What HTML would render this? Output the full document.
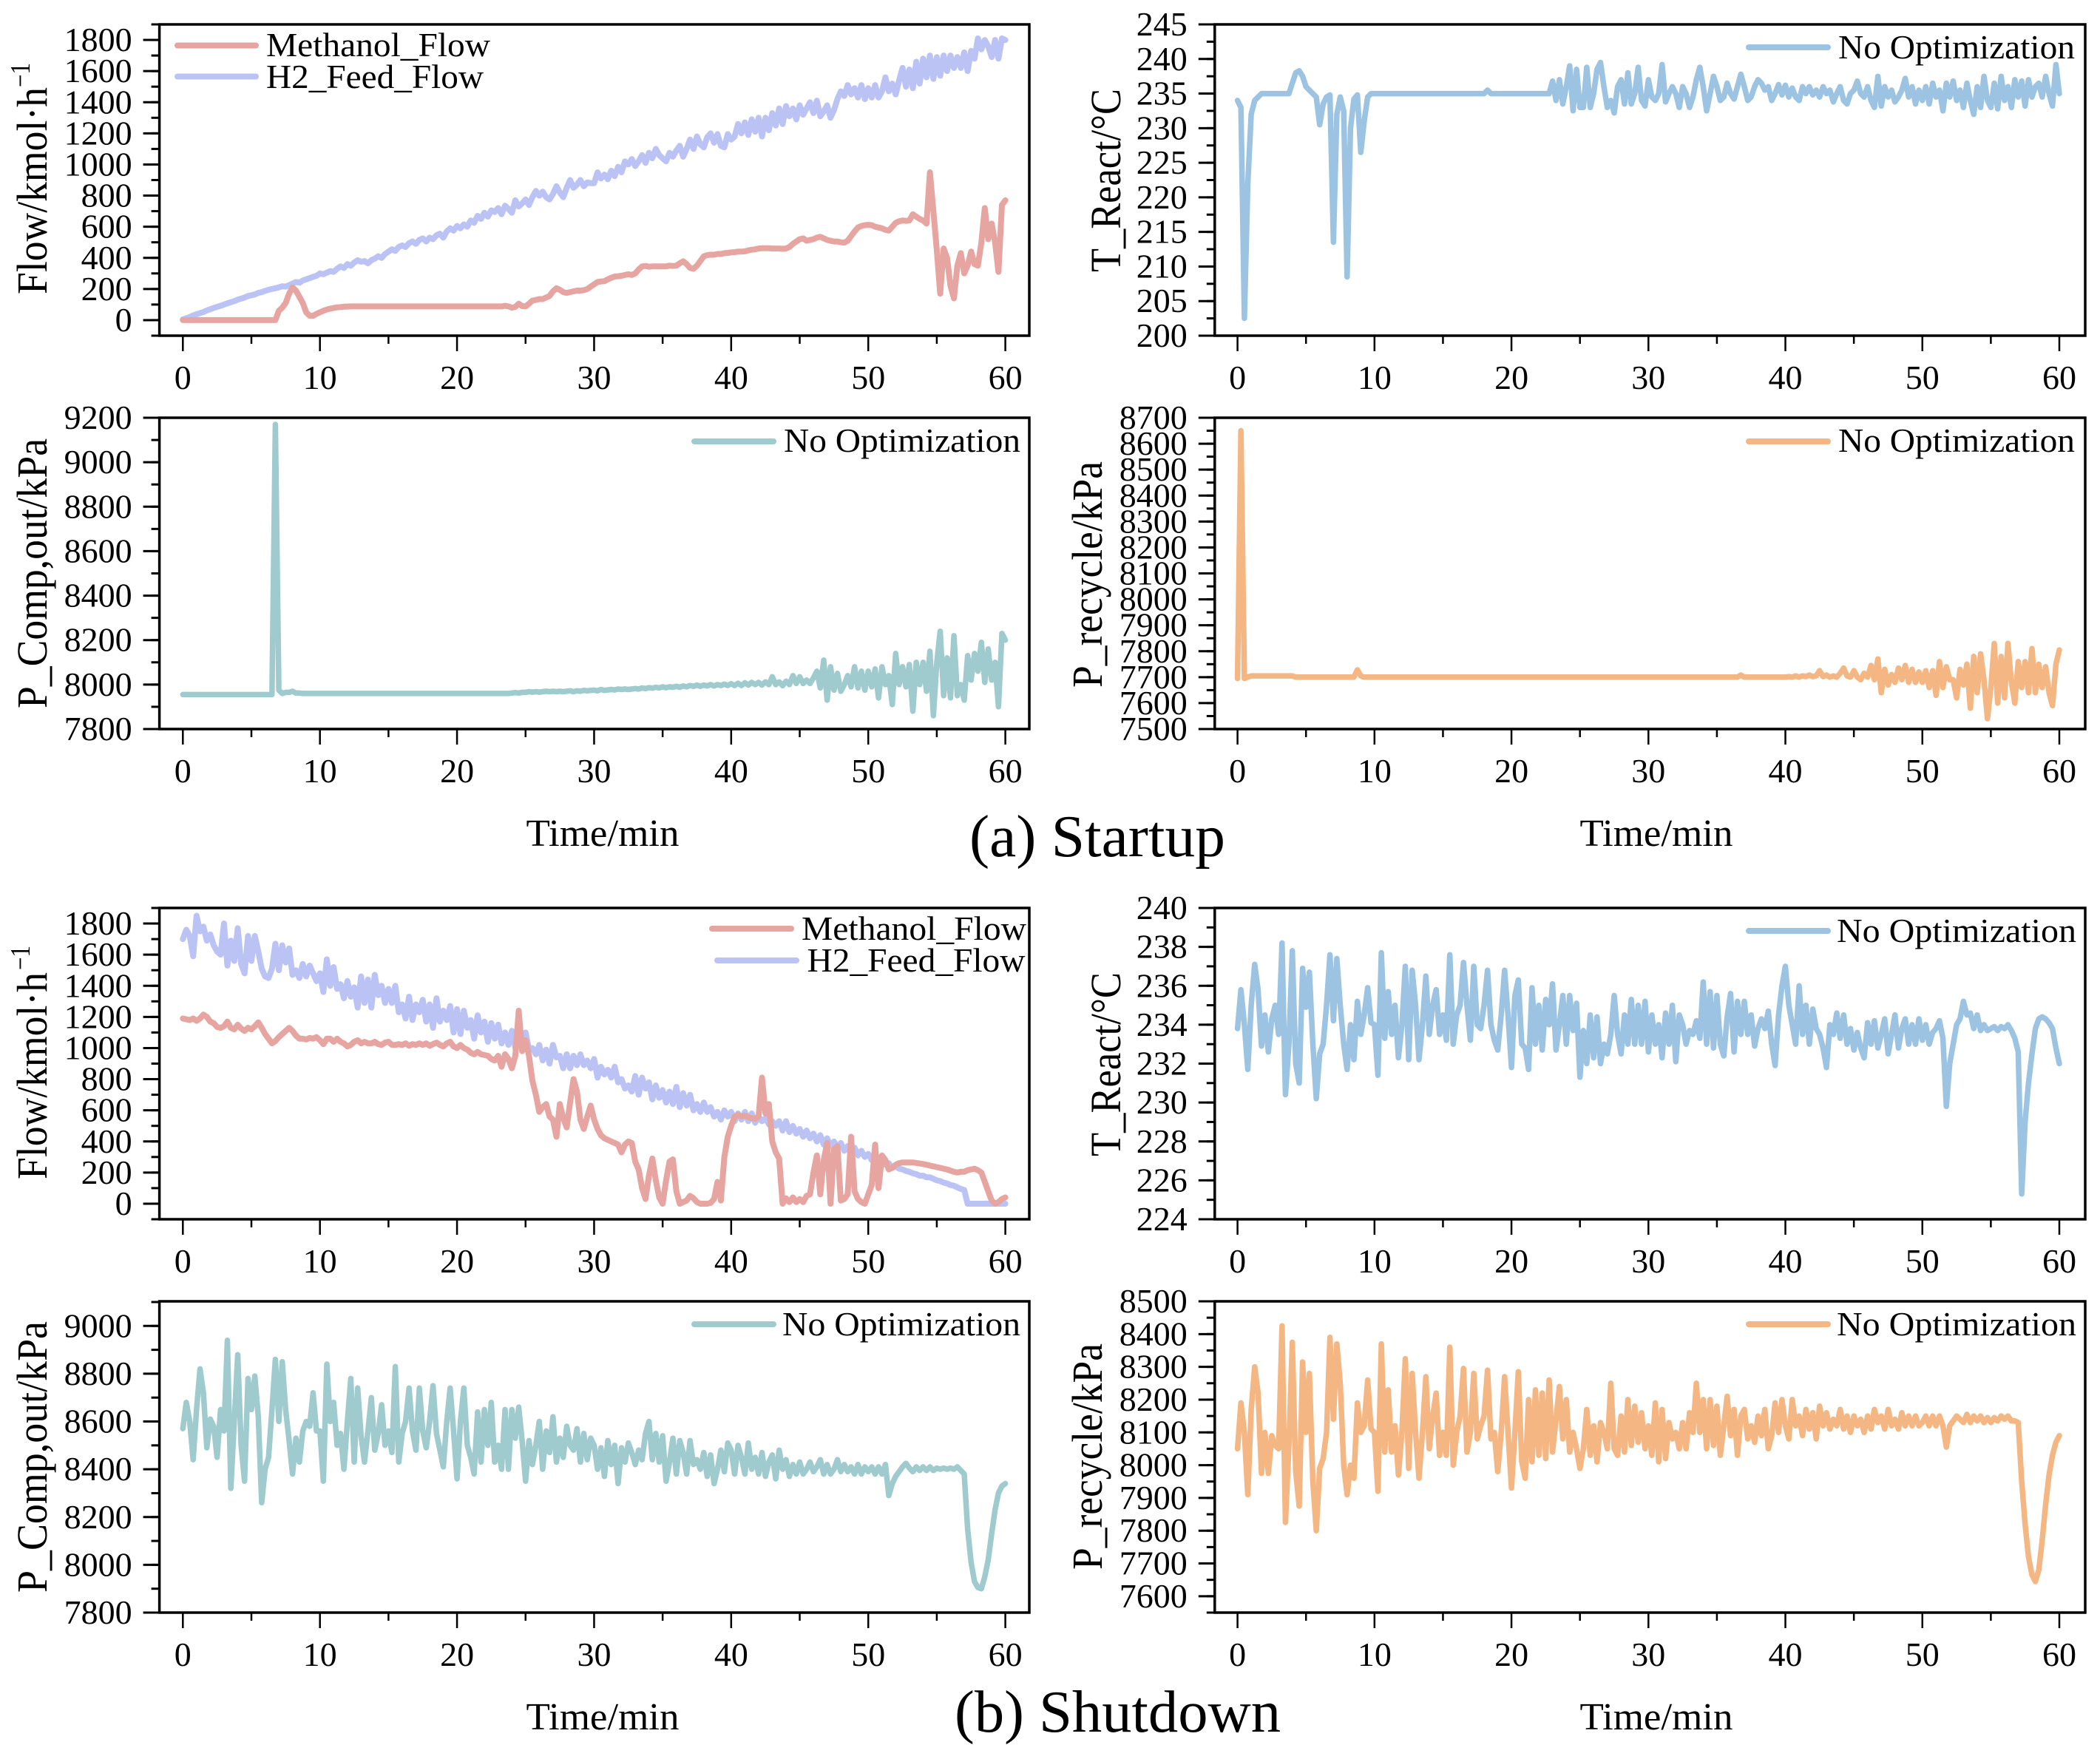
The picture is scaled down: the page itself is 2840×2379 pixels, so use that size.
<!DOCTYPE html>
<html lang="en">
<head>
<meta charset="utf-8">
<title>Startup and shutdown dynamics</title>
<style>
html,body{margin:0;padding:0;background:#fff;}
svg{display:block;}
text{font-family:"Liberation Serif",serif;fill:#000;}
</style>
</head>
<body>
<svg id="chart" xmlns="http://www.w3.org/2000/svg" width="2840" height="2379" viewBox="0 0 2840 2379">
<rect x="0" y="0" width="2840" height="2379" fill="#fff"/>
<g id="marks"></g>

<g>
<text transform="translate(63,398) rotate(-90)" font-size="58" textLength="280" lengthAdjust="spacingAndGlyphs">Flow/kmol·h</text>
<text transform="translate(40,118) rotate(-90)" font-size="38" textLength="33" lengthAdjust="spacingAndGlyphs">−1</text>
<line x1="240" x2="346" y1="61.5" y2="61.5" stroke="#E6A5A0" stroke-width="8" stroke-linecap="round"/>
<text x="360" y="76" font-size="46" textLength="303" lengthAdjust="spacingAndGlyphs">Methanol_Flow</text>
<line x1="240" x2="346" y1="103.5" y2="103.5" stroke="#BBC3F5" stroke-width="8" stroke-linecap="round"/>
<text x="360" y="119" font-size="46" textLength="294" lengthAdjust="spacingAndGlyphs">H2_Feed_Flow</text>
</g>

<g>
<text transform="translate(1515,368) rotate(-90)" font-size="58" textLength="248" lengthAdjust="spacingAndGlyphs">T_React/°C</text>
<line x1="2365" x2="2472" y1="64" y2="64" stroke="#9CC4E2" stroke-width="8" stroke-linecap="round"/>
<text x="2486" y="79" font-size="46" textLength="320" lengthAdjust="spacingAndGlyphs">No Optimization</text>
</g>

<g>
<text transform="translate(63,958) rotate(-90)" font-size="58" textLength="365" lengthAdjust="spacingAndGlyphs">P_Comp,out/kPa</text>
<line x1="939" x2="1046" y1="597" y2="597" stroke="#9FCBCF" stroke-width="8" stroke-linecap="round"/>
<text x="1060" y="611" font-size="46" textLength="320" lengthAdjust="spacingAndGlyphs">No Optimization</text>
<text x="815" y="1144" font-size="52" text-anchor="middle" textLength="207" lengthAdjust="spacingAndGlyphs">Time/min</text>
</g>

<g>
<text transform="translate(1490,930) rotate(-90)" font-size="58" textLength="306" lengthAdjust="spacingAndGlyphs">P_recycle/kPa</text>
<line x1="2365" x2="2472" y1="597" y2="597" stroke="#F4B783" stroke-width="8" stroke-linecap="round"/>
<text x="2486" y="611" font-size="46" textLength="320" lengthAdjust="spacingAndGlyphs">No Optimization</text>
<text x="2240" y="1144" font-size="52" text-anchor="middle" textLength="207" lengthAdjust="spacingAndGlyphs">Time/min</text>
</g>

<text x="1311" y="1158" font-size="80" textLength="346" lengthAdjust="spacingAndGlyphs">(a) Startup</text>

<g>
<text transform="translate(63,1595) rotate(-90)" font-size="58" textLength="280" lengthAdjust="spacingAndGlyphs">Flow/kmol·h</text>
<text transform="translate(40,1312) rotate(-90)" font-size="38" textLength="33" lengthAdjust="spacingAndGlyphs">−1</text>
<line x1="963" x2="1070" y1="1256" y2="1256" stroke="#E6A5A0" stroke-width="8" stroke-linecap="round"/>
<text x="1084" y="1271" font-size="46" textLength="304" lengthAdjust="spacingAndGlyphs">Methanol_Flow</text>
<line x1="970" x2="1077" y1="1299" y2="1299" stroke="#BBC3F5" stroke-width="8" stroke-linecap="round"/>
<text x="1091.5" y="1314" font-size="46" textLength="295" lengthAdjust="spacingAndGlyphs">H2_Feed_Flow</text>
</g>

<g>
<text transform="translate(1515,1564) rotate(-90)" font-size="58" textLength="249" lengthAdjust="spacingAndGlyphs">T_React/°C</text>
<line x1="2365" x2="2472" y1="1259" y2="1259" stroke="#9CC4E2" stroke-width="8" stroke-linecap="round"/>
<text x="2484" y="1274" font-size="46" textLength="324" lengthAdjust="spacingAndGlyphs">No Optimization</text>
</g>

<g>
<text transform="translate(63,2154) rotate(-90)" font-size="58" textLength="367" lengthAdjust="spacingAndGlyphs">P_Comp,out/kPa</text>
<line x1="939" x2="1046" y1="1791" y2="1791" stroke="#9FCBCF" stroke-width="8" stroke-linecap="round"/>
<text x="1058" y="1806" font-size="46" textLength="322" lengthAdjust="spacingAndGlyphs">No Optimization</text>
<text x="815" y="2339" font-size="52" text-anchor="middle" textLength="207" lengthAdjust="spacingAndGlyphs">Time/min</text>
</g>

<g>
<text transform="translate(1490,2123) rotate(-90)" font-size="58" textLength="306" lengthAdjust="spacingAndGlyphs">P_recycle/kPa</text>
<line x1="2365" x2="2472" y1="1791" y2="1791" stroke="#F4B783" stroke-width="8" stroke-linecap="round"/>
<text x="2484" y="1806" font-size="46" textLength="324" lengthAdjust="spacingAndGlyphs">No Optimization</text>
<text x="2240" y="2339" font-size="52" text-anchor="middle" textLength="207" lengthAdjust="spacingAndGlyphs">Time/min</text>
</g>

<text x="1291" y="2342" font-size="80" textLength="441" lengthAdjust="spacingAndGlyphs">(b) Shutdown</text>
</svg>

<script>
// Sampling interval of every series (minutes)
const sampleStep = 0.25;

// X axis
const xTicks = [0, 10, 20, 30, 40, 50, 60];
const xMinorTicks = [5, 15, 25, 35, 45, 55];

// Y tick labels
const flowTicks = [0, 200, 400, 600, 800, 1000, 1200, 1400, 1600, 1800];
const tempStartupTicks = [200, 205, 210, 215, 220, 225, 230, 235, 240, 245];
const compStartupTicks = [7800, 8000, 8200, 8400, 8600, 8800, 9000, 9200];
const recycleStartupTicks = [7500, 7600, 7700, 7800, 7900, 8000, 8100, 8200, 8300, 8400, 8500, 8600, 8700];
const tempShutdownTicks = [224, 226, 228, 230, 232, 234, 236, 238, 240];
const compShutdownTicks = [7800, 8000, 8200, 8400, 8600, 8800, 9000];
const recycleShutdownTicks = [7600, 7700, 7800, 7900, 8000, 8100, 8200, 8300, 8400, 8500];

// Series values, one row per 5 minutes (20 samples)
const methanolStartup = [
0,0,0,0,0,0,0,0,0,0,0,0,0,0,0,0,0,0,0,0,
0,0,0,0,0,0,0,0,60,80,110,170,210,190,150,110,50,28,28,40,
50,60,68,74,78,82,84,86,87,88,88,88,88,88,88,88,88,88,88,88,
88,88,88,88,88,88,88,88,88,88,88,88,88,88,88,88,88,88,88,88,
88,88,88,88,88,88,88,88,88,88,88,88,88,88,92,88,80,85,105,90,
88,105,125,130,135,135,145,155,185,205,195,180,175,180,185,190,190,192,200,215,
230,245,248,250,262,272,280,282,285,290,295,290,300,325,345,348,343,345,345,345,
345,345,350,348,350,365,378,360,335,330,350,380,410,418,420,420,425,425,430,432,
435,437,440,440,442,448,452,455,460,462,462,462,460,460,460,458,460,470,490,505,
520,525,510,515,520,530,535,525,515,510,505,505,500,498,510,540,570,595,605,610,
612,610,600,595,590,580,575,600,625,635,640,638,640,680,665,650,640,620,950,700,
450,170,460,400,220,140,350,430,300,350,440,360,350,500,720,520,620,500,310,740,
770];

const h2Startup = [
5,12,20,30,38,45,52,62,70,78,85,92,100,108,115,122,132,138,145,155,
160,165,175,180,188,195,200,205,210,218,215,225,235,245,240,255,262,270,278,285,
300,295,305,315,310,330,345,335,360,350,370,385,375,380,365,385,395,410,400,425,
440,455,445,470,480,470,495,505,490,515,525,505,530,520,545,555,530,570,590,575,
605,590,615,600,640,625,670,650,690,665,705,695,720,680,735,715,690,770,730,750,
775,740,790,830,800,825,790,775,810,860,820,790,850,900,850,870,900,860,885,880,
880,950,910,935,905,960,925,985,950,1020,1000,1035,990,1020,1060,1010,1075,1040,1100,1060,
1040,1020,1075,1050,1090,1120,1050,1100,1160,1100,1180,1130,1110,1175,1200,1140,1195,1120,1110,1195,
1160,1180,1260,1200,1270,1190,1290,1210,1300,1180,1300,1220,1330,1250,1360,1260,1375,1310,1360,1290,
1380,1320,1360,1400,1330,1410,1310,1340,1380,1300,1350,1420,1470,1440,1510,1450,1490,1430,1510,1420,
1490,1430,1510,1430,1470,1560,1470,1520,1450,1540,1620,1500,1610,1490,1660,1520,1680,1560,1700,1550,
1690,1570,1700,1600,1700,1620,1690,1620,1720,1600,1730,1680,1810,1740,1800,1760,1690,1800,1680,1810,
1800];

const tempStartup = [
234,233,202.5,222,232,234,234.5,235,235,235,235,235,235,235,235,235,236.5,238,238.3,237.5,
236,235.5,235,234.5,230.5,233.5,234.5,234.8,213.5,232,234.5,232.5,208.5,230,234.2,234.8,226.5,231,234.5,235,
235,235,235,235,235,235,235,235,235,235,235,235,235,235,235,235,235,235,235,235,
235,235,235,235,235,235,235,235,235,235,235,235,235,235.5,235,235,235,235,235,235,
235,235,235,235,235,235,235,235,235,235,235,235,236.8,234,237,233.5,236,239,232.5,238.5,
233,233,238.8,233,235,238.5,239.5,236,233,234,232.2,236,237,233.5,238,233.5,235,238.8,234,233.2,
237,234.5,234,235,239.2,233.8,235,236,235,233,236,235,233,234.5,237,238.8,236,232.5,235,237.5,
236,234,234.5,236.5,235,234.2,236,237.8,236,234,234.5,236,237,236.5,235.5,236,234,235,236.3,234.8,
236.2,234.5,235.8,234.5,234,236,235,236,234.8,235.5,234.5,236,235,235.5,233.8,235,236,234,233.5,235,
235.5,236.8,235,234.5,236,234,233,237.5,233.2,236,234.5,235.5,233.8,234.5,235.5,237.2,234.5,236,233.5,235.5,
234,236,233.5,236.5,234.5,235.5,232.5,236.5,234.5,236.8,234,235.5,233,236.5,234,232,236,233,237.5,234,
233,236.5,232.8,237.5,234,236,233,237,234.5,236.8,233.2,237,234.5,236,236.5,234.5,237.5,235,233.2,239.2,
235];

const compStartup = [
7955,7955,7955,7955,7955,7955,7955,7955,7955,7955,7955,7955,7955,7955,7955,7955,7955,7955,7955,7955,
7955,7955,7955,7955,7955,7955,7955,9170,7975,7960,7965,7965,7970,7962,7962,7960,7960,7960,7960,7960,
7960,7960,7960,7960,7960,7960,7960,7960,7960,7960,7960,7960,7960,7960,7960,7960,7960,7960,7960,7960,
7960,7960,7960,7960,7960,7960,7960,7960,7960,7960,7960,7960,7960,7960,7960,7960,7960,7960,7960,7960,
7960,7960,7960,7960,7960,7960,7960,7960,7960,7960,7960,7960,7960,7960,7960,7960,7962,7964,7962,7965,
7965,7968,7966,7968,7966,7968,7970,7968,7970,7968,7970,7968,7970,7972,7968,7972,7970,7974,7972,7974,
7975,7972,7978,7974,7976,7978,7976,7980,7978,7980,7978,7980,7982,7980,7985,7982,7986,7984,7988,7985,
7990,7986,7990,7988,7992,7988,7994,7990,7996,7992,7998,7992,7998,7994,8000,7994,8000,7996,8002,7996,
8004,7996,8006,7996,8008,7998,8010,8000,8010,7998,8012,8000,8035,8000,8012,7995,8015,8000,8040,8005,
8035,8005,8020,8005,8030,8060,7985,8110,7930,8080,7975,8050,7970,8000,8040,7990,8080,7985,8060,7975,
8060,7990,8070,7940,8080,8000,8040,7910,8140,8000,8080,7990,8090,7880,8100,8000,8100,7970,8150,7860,
8100,8240,7950,8120,7940,8220,7950,8000,7930,8130,8020,8140,8060,8190,8010,8160,8020,8100,7900,8230,
8200];

const recycleStartup = [
7695,8650,7695,7700,7705,7705,7705,7705,7705,7705,7705,7705,7705,7705,7705,7705,7705,7700,7700,7700,
7700,7700,7700,7700,7700,7700,7700,7700,7700,7700,7700,7700,7700,7700,7700,7728,7705,7700,7700,7700,
7700,7700,7700,7700,7700,7700,7700,7700,7700,7700,7700,7700,7700,7700,7700,7700,7700,7700,7700,7700,
7700,7700,7700,7700,7700,7700,7700,7700,7700,7700,7700,7700,7700,7700,7700,7700,7700,7700,7700,7700,
7700,7700,7700,7700,7700,7700,7700,7700,7700,7700,7700,7700,7700,7700,7700,7700,7700,7700,7700,7700,
7700,7700,7700,7700,7700,7700,7700,7700,7700,7700,7700,7700,7700,7700,7700,7700,7700,7700,7700,7700,
7700,7700,7700,7700,7700,7700,7700,7700,7700,7700,7700,7700,7700,7700,7700,7700,7700,7700,7700,7700,
7700,7700,7700,7700,7700,7700,7700,7708,7700,7700,7700,7700,7700,7700,7700,7700,7700,7700,7700,7700,
7700,7702,7700,7705,7700,7705,7702,7708,7702,7705,7725,7702,7708,7700,7705,7700,7715,7735,7705,7700,
7725,7700,7690,7715,7700,7745,7690,7770,7640,7730,7670,7710,7680,7735,7690,7745,7680,7730,7680,7720,
7680,7725,7660,7725,7630,7760,7660,7740,7690,7690,7620,7730,7670,7750,7580,7780,7640,7790,7690,7540,
7660,7830,7600,7780,7620,7830,7680,7600,7760,7660,7760,7640,7810,7640,7750,7660,7740,7640,7590,7750,
7805];

const h2Shutdown = [
1700,1760,1720,1590,1850,1750,1780,1690,1730,1660,1620,1600,1800,1530,1690,1560,1770,1540,1480,1720,
1560,1720,1620,1510,1460,1450,1510,1670,1500,1660,1550,1640,1470,1500,1450,1540,1460,1530,1480,1430,
1480,1360,1570,1400,1520,1380,1410,1320,1430,1330,1390,1260,1460,1290,1440,1260,1470,1340,1400,1290,
1380,1290,1400,1230,1280,1190,1330,1180,1280,1230,1310,1170,1280,1130,1320,1170,1240,1180,1270,1100,
1250,1090,1240,1130,1180,1060,1210,1100,1170,1040,1160,1060,1150,1030,1100,1020,1110,1000,1050,1000,
1100,990,1000,960,1020,920,990,900,1020,940,950,870,960,870,950,890,960,890,920,870,
930,810,880,830,860,810,880,780,800,740,760,720,820,700,810,740,780,670,760,680,
730,650,720,640,750,620,710,630,700,600,640,590,650,590,620,560,590,540,600,560,
590,530,580,540,590,530,580,520,560,530,550,510,530,500,530,470,530,460,500,450,
480,430,470,420,450,400,440,380,420,370,400,360,390,340,370,320,360,310,340,300,
320,280,300,260,270,250,260,230,240,225,220,210,205,195,190,180,180,170,170,160,
150,145,135,130,120,115,105,95,88,0,0,0,0,0,0,0,0,0,0,0,
0];

const methanolShutdown = [
1190,1185,1180,1190,1175,1190,1215,1200,1170,1160,1135,1130,1140,1170,1130,1120,1150,1125,1110,1130,
1120,1140,1165,1130,1090,1060,1030,1045,1070,1090,1110,1130,1110,1080,1060,1060,1055,1065,1060,1070,
1050,1025,1060,1060,1040,1060,1040,1030,1010,1020,1040,1050,1030,1040,1030,1030,1040,1025,1020,1035,
1040,1020,1020,1025,1020,1030,1015,1025,1020,1030,1020,1030,1015,1025,1035,1020,1010,1030,1040,1010,
1000,1020,1000,990,970,960,975,960,955,950,930,920,950,880,960,930,870,950,1240,980,
1050,950,790,700,590,620,640,560,540,430,640,550,490,650,800,720,540,480,560,630,
540,480,440,420,410,400,390,380,330,380,400,390,270,220,100,30,180,290,150,40,
0,150,270,285,80,0,10,20,50,35,10,0,0,0,5,30,140,20,300,430,
500,560,570,560,565,555,550,545,560,810,580,640,400,330,290,0,35,10,40,10,
30,10,50,60,200,310,60,280,390,0,350,370,20,30,60,430,80,30,10,0,
60,120,380,100,310,280,220,230,250,260,265,265,265,265,262,258,255,250,245,240,
235,230,225,220,212,205,200,205,205,215,220,225,215,200,140,80,20,0,10,30,
40];

const tempShutdown = [
233.8,235.8,234,231.7,235,237.1,235.8,232.9,234.5,232.6,234.3,235,233.5,238.2,230.4,233,237.8,232,231,236.9,
234.9,236.7,233,230.2,232.5,233,235,237.6,234.2,237.4,235,233,231.7,234,232.2,235.2,233.5,234.5,235.9,234.1,
234,231.4,237.7,233.3,235.7,233.5,235,232.3,234,237,232.2,236.8,235,232.2,234,236.5,233.5,235,235.8,233.5,
234.5,233.2,237.6,233,234.5,235,237.2,235,233.2,237,234,233.8,235,236.8,234,233.2,232.7,234.5,236.8,234.5,
231.8,235.5,236.3,233,232.8,231.7,235.9,233,235,232.7,235.3,234,236.1,232.7,234,235.5,233,235.5,233.7,235.1,
231.3,233.7,232,234.5,232.3,234.4,232,233,232.5,233.5,235.5,233.5,232.5,234.5,233,235.3,233,235,233,235.2,
232.6,234.5,233,234,232.3,234.6,233,235,232.1,234.5,234,233,233.7,233.5,234.2,233.3,236.2,233,235.7,232.8,
235.5,233,232.4,234.4,235.6,232.6,235.2,233.5,235.2,233.5,234.5,232.9,233.8,234.3,233.8,234.7,233,231.9,234.5,236,
237,235,234,233,236,233.5,235,233,234.8,233.8,233.5,232.8,231.8,234,233.5,234.6,233.3,234.5,233,233.8,
232.7,233.6,232.8,232.3,234.1,233,234.2,232.8,233.5,234.3,232.5,233.5,234.5,232.8,233.8,234.3,233,234,233,234.3,
233.2,234,233,233.6,233.8,234.2,233.3,229.8,232,233,234,234.3,235.2,234.5,234.6,233.8,234.5,233.7,234,233.7,
233.8,233.9,233.7,233.9,233.8,234,233.7,233.3,232.6,225.3,229,231,232.5,233.8,234.3,234.4,234.3,234.1,233.8,232.8,
232];

const compShutdown = [
8570,8680,8600,8440,8650,8820,8720,8490,8610,8580,8450,8650,8560,8940,8320,8600,8880,8500,8350,8780,
8650,8790,8620,8260,8400,8450,8650,8860,8600,8850,8650,8520,8380,8530,8430,8560,8600,8580,8720,8560,
8560,8350,8840,8600,8680,8500,8550,8400,8600,8780,8430,8740,8540,8430,8560,8700,8480,8550,8670,8500,
8560,8470,8830,8430,8550,8600,8740,8560,8480,8740,8560,8490,8600,8750,8550,8480,8410,8600,8740,8560,
8360,8600,8740,8500,8450,8380,8640,8430,8650,8500,8680,8430,8500,8400,8650,8400,8650,8530,8660,8520,
8350,8520,8420,8500,8600,8400,8560,8470,8620,8430,8530,8450,8580,8500,8480,8570,8430,8550,8440,8530,
8500,8400,8490,8370,8520,8420,8500,8340,8490,8430,8510,8470,8420,8480,8440,8550,8600,8440,8550,8430,
8540,8350,8430,8530,8380,8520,8470,8380,8520,8420,8440,8400,8470,8370,8460,8340,8400,8480,8390,8510,
8480,8380,8500,8450,8380,8510,8400,8450,8380,8470,8370,8430,8460,8360,8480,8400,8440,8370,8420,8380,
8430,8380,8400,8430,8390,8410,8440,8380,8420,8380,8400,8440,8390,8420,8390,8410,8380,8420,8380,8410,
8390,8410,8380,8410,8380,8420,8290,8340,8370,8390,8410,8425,8405,8390,8410,8395,8410,8395,8410,8395,
8405,8400,8405,8400,8405,8400,8410,8395,8380,8150,8010,7930,7905,7900,7950,8020,8130,8230,8300,8330,
8340];

const recycleShutdown = [
8050,8190,8100,7910,8170,8300,8220,7975,8100,7975,8090,8060,8050,8425,7825,8060,8375,7980,7875,8315,
8100,8280,7950,7800,7990,8020,8100,8390,8140,8370,8250,8000,7910,8000,7960,8190,8100,8120,8260,8110,
8100,7920,8370,8040,8230,8040,8120,7970,8100,8325,7990,8280,8100,7960,8100,8270,8050,8150,8220,8030,
8100,8030,8360,8000,8100,8150,8295,8040,8100,8280,8080,8120,8150,8290,8080,8100,7980,8100,8270,8100,
7930,8100,8285,8010,7960,8200,8010,8230,8030,8220,8020,8260,8040,8140,8240,8080,8200,8040,8100,8050,
7990,8050,8170,8030,8120,8010,8130,8100,8050,8250,8050,8030,8150,8040,8200,8060,8180,8070,8160,8050,
8120,8030,8190,8010,8170,8020,8130,8080,8100,8050,8130,8050,8160,8100,8250,8100,8200,8050,8200,8060,
8180,8030,8120,8210,8090,8170,8030,8150,8170,8080,8120,8070,8150,8090,8170,8050,8090,8190,8100,8200,
8120,8080,8200,8120,8150,8090,8170,8110,8160,8080,8180,8120,8160,8110,8140,8120,8170,8110,8150,8100,
8150,8120,8140,8100,8150,8110,8170,8130,8150,8110,8170,8120,8140,8110,8160,8120,8150,8120,8150,8120,
8130,8150,8120,8150,8120,8150,8120,8055,8120,8135,8150,8140,8130,8155,8130,8150,8135,8150,8130,8145,
8130,8145,8135,8150,8140,8150,8135,8135,8130,7950,7820,7720,7665,7645,7680,7770,7880,7970,8030,8070,
8090];

const SVG_NS = 'http://www.w3.org/2000/svg';
const marksRoot = document.getElementById('marks');

function create(tag, parent, attrs) {
  const node = document.createElementNS(SVG_NS, tag);
  for (const key in attrs) node.setAttribute(key, attrs[key]);
  parent.appendChild(node);
  return node;
}

function makeXScale(left, right, zeroPx, sixtyPx) {
  return function (t) { return zeroPx + (sixtyPx - zeroPx) * t / 60; };
}

function makeYScale(top, bottom, yMin, yMax) {
  return function (v) { return bottom - (v - yMin) * (bottom - top) / (yMax - yMin); };
}

function drawPanel(cfg) {
  const g = create('g', marksRoot, {});
  
  
  const xScale = makeXScale(cfg.left, cfg.right, cfg.x0, cfg.x60);
  const yScale = makeYScale(cfg.top, cfg.bottom, cfg.yMin, cfg.yMax);

  // series
  cfg.series.forEach(function (s) {
    let d = '';
    s.values.forEach(function (v, i) {
      d += (i ? 'L' : 'M') + xScale(i * sampleStep).toFixed(1) + ' ' + yScale(v).toFixed(1);
    });
    const path = create('path', g, { d: d, fill: 'none', stroke: s.color, 'stroke-width': s.width, 'stroke-linejoin': 'round', 'stroke-linecap': 'round' });
    
    
  });

  // frame
  const frame = create('rect', g, { x: cfg.left, y: cfg.top, width: cfg.right - cfg.left, height: cfg.bottom - cfg.top, fill: 'none', stroke: '#000', 'stroke-width': 3.5 });
  
  

  // x ticks
  xTicks.forEach(function (t) {
    const tick = create('line', g, { x1: xScale(t), x2: xScale(t), y1: cfg.bottom, y2: cfg.bottom + 21, stroke: '#000', 'stroke-width': 2.5 });
    
    
    const label = create('text', g, { x: xScale(t), y: cfg.bottom + 72, 'font-size': 46, 'text-anchor': 'middle' });
    label.textContent = String(t);
    
    
  });
  xMinorTicks.forEach(function (t) {
    const tick = create('line', g, { x1: xScale(t), x2: xScale(t), y1: cfg.bottom, y2: cfg.bottom + 11, stroke: '#000', 'stroke-width': 2.5 });
    
    
  });

  // y ticks
  cfg.ticks.forEach(function (v) {
    const tick = create('line', g, { x1: cfg.left - 22, x2: cfg.left, y1: yScale(v), y2: yScale(v), stroke: '#000', 'stroke-width': 3 });
    
    
    const label = create('text', g, { x: cfg.left - 37, y: yScale(v) + 15, 'font-size': 46, 'text-anchor': 'end' });
    label.textContent = String(v);
    
    
  });
  for (let v = cfg.yMin; v <= cfg.yMax + 1e-6; v += cfg.minorStep) {
    const tick = create('line', g, { x1: cfg.left - 11, x2: cfg.left, y1: yScale(v), y2: yScale(v), stroke: '#000', 'stroke-width': 3 });
    
    
  }
}

const leftColumn = { left: 215.6, right: 1392, x0: 247.3, x60: 1359.6 };
const rightColumn = { left: 1642.8, right: 2820, x0: 1673.6, x60: 2785 };

function panel(column, top, bottom, yMin, yMax, minorStep, ticks, series) {
  return { left: column.left, right: column.right, x0: column.x0, x60: column.x60, top: top, bottom: bottom, yMin: yMin, yMax: yMax, minorStep: minorStep, ticks: ticks, series: series };
}

drawPanel(panel(leftColumn, 33, 454, -100, 1900, 100, flowTicks, [
  { values: h2Startup, color: '#BBC3F5', width: 8 },
  { values: methanolStartup, color: '#E6A5A0', width: 8 }
]));
drawPanel(panel(rightColumn, 33, 454, 200, 245, 2.5, tempStartupTicks, [
  { values: tempStartup, color: '#9CC4E2', width: 7.5 }
]));
drawPanel(panel(leftColumn, 565, 986, 7800, 9200, 100, compStartupTicks, [
  { values: compStartup, color: '#9FCBCF', width: 7.5 }
]));
drawPanel(panel(rightColumn, 565, 986, 7500, 8700, 50, recycleStartupTicks, [
  { values: recycleStartup, color: '#F4B783', width: 7.5 }
]));
drawPanel(panel(leftColumn, 1228, 1649, -100, 1900, 100, flowTicks, [
  { values: h2Shutdown, color: '#BBC3F5', width: 8 },
  { values: methanolShutdown, color: '#E6A5A0', width: 8 }
]));
drawPanel(panel(rightColumn, 1228, 1649, 224, 240, 1, tempShutdownTicks, [
  { values: tempShutdown, color: '#9CC4E2', width: 7.5 }
]));
drawPanel(panel(leftColumn, 1760, 2181, 7800, 9103, 100, compShutdownTicks, [
  { values: compShutdown, color: '#9FCBCF', width: 7.5 }
]));
drawPanel(panel(rightColumn, 1760, 2181, 7550, 8500, 50, recycleShutdownTicks, [
  { values: recycleShutdown, color: '#F4B783', width: 7.5 }
]));
</script>
</body>
</html>
